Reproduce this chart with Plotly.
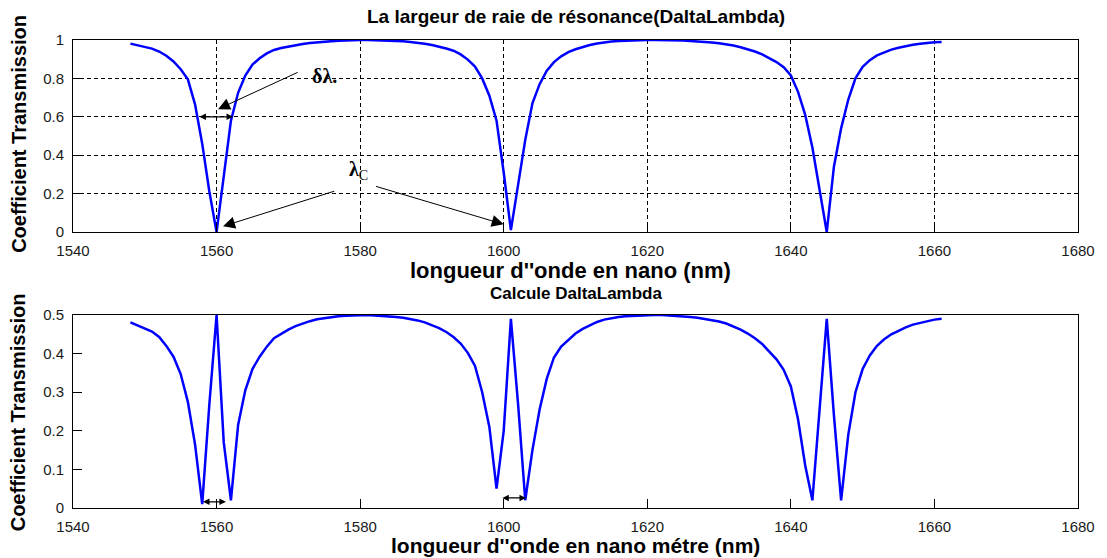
import plotly.graph_objects as go

# Wavelength samples (nm)
wavelength = list(range(1548, 1662))

# Top panel: transmission coefficient
transmission = [
    0.981, 0.973, 0.965, 0.955, 0.940, 0.918, 0.888, 0.848, 0.795, 0.665,
    0.460, 0.210, 0.000, 0.300, 0.580, 0.725, 0.815, 0.872, 0.905, 0.930,
    0.948, 0.958, 0.966, 0.973, 0.979, 0.984, 0.988, 0.991, 0.994, 0.996,
    0.998, 0.999, 1.000, 1.000, 0.999, 0.998, 0.997, 0.995, 0.993, 0.990,
    0.986, 0.981, 0.974, 0.966, 0.956, 0.944, 0.925, 0.898, 0.862, 0.800,
    0.710, 0.580, 0.310, 0.010, 0.240, 0.480, 0.670, 0.770, 0.840, 0.885,
    0.915, 0.937, 0.952, 0.964, 0.974, 0.982, 0.988, 0.992, 0.995, 0.997,
    0.998, 0.999, 1.000, 1.000, 1.000, 0.999, 0.998, 0.997, 0.995, 0.993,
    0.990, 0.987, 0.983, 0.978, 0.971, 0.962, 0.952, 0.940, 0.925, 0.906,
    0.885, 0.858, 0.815, 0.730, 0.610, 0.440, 0.230, 0.000, 0.340, 0.540,
    0.690, 0.800, 0.860, 0.895, 0.920, 0.937, 0.950, 0.960, 0.968, 0.975,
    0.980, 0.985, 0.988, 0.990,
]

# Bottom panel: "Calcule DaltaLambda" curve
delta_curve = [
    0.481, 0.473, 0.465, 0.457, 0.443, 0.420, 0.392, 0.347, 0.275, 0.165,
    0.010, 0.270, 0.500, 0.170, 0.020, 0.215, 0.305, 0.360, 0.392, 0.418,
    0.440, 0.452, 0.462, 0.471, 0.478, 0.484, 0.489, 0.492, 0.495, 0.497,
    0.498, 0.499, 0.500, 0.500, 0.499, 0.498, 0.497, 0.495, 0.493, 0.490,
    0.486, 0.481, 0.474, 0.466, 0.456, 0.443, 0.426, 0.402, 0.368, 0.300,
    0.210, 0.050, 0.200, 0.490, 0.270, 0.020, 0.150, 0.255, 0.335, 0.390,
    0.418, 0.436, 0.452, 0.464, 0.474, 0.482, 0.488, 0.492, 0.495, 0.497,
    0.498, 0.499, 0.500, 0.500, 0.500, 0.499, 0.498, 0.497, 0.495, 0.493,
    0.490, 0.487, 0.483, 0.478, 0.471, 0.462, 0.452, 0.440, 0.425, 0.406,
    0.385, 0.358, 0.315, 0.230, 0.110, 0.020, 0.250, 0.490, 0.240, 0.020,
    0.190, 0.300, 0.360, 0.395, 0.420, 0.437, 0.450, 0.460, 0.468, 0.475,
    0.480, 0.485, 0.488, 0.490,
]

x_ticks = [1540, 1560, 1580, 1600, 1620, 1640, 1660, 1680]
y_ticks_top = [0, 0.2, 0.4, 0.6, 0.8, 1]
y_ticks_bottom = [0, 0.1, 0.2, 0.3, 0.4, 0.5]

fig = go.Figure()
fig.add_trace(go.Scatter(x=wavelength, y=transmission, mode="lines",
                         line=dict(color="#0000FF", width=2.5),
                         xaxis="x", yaxis="y", showlegend=False))
fig.add_trace(go.Scatter(x=wavelength, y=delta_curve, mode="lines",
                         line=dict(color="#0000FF", width=2.5),
                         xaxis="x2", yaxis="y2", showlegend=False))

tick_font = dict(family="Arial, Liberation Sans, sans-serif", size=15, color="#1a1a1a")
axis_common = dict(showline=True, mirror=True, linecolor="black", linewidth=1,
                   ticks="inside", ticklen=9, tickcolor="black", tickwidth=1,
                   tickfont=tick_font, zeroline=False, ticklabelstandoff=5)
grid_style = dict(showgrid=True, gridcolor="black", griddash="4px,3px", gridwidth=1)

fig.update_layout(
    width=1107, height=558,
    paper_bgcolor="white", plot_bgcolor="white",
    margin=dict(l=73, r=25, t=40, b=50),
    xaxis=dict(domain=[0, 1], range=[1540, 1680], tickvals=x_ticks, anchor="y",
               **grid_style, **axis_common),
    yaxis=dict(domain=[0.5897, 1], range=[0, 1], tickvals=y_ticks_top,
               ticktext=["0", "0.2", "0.4", "0.6", "0.8", "1"], anchor="x",
               **grid_style, **axis_common),
    xaxis2=dict(domain=[0, 1], range=[1540, 1680], tickvals=x_ticks, anchor="y2",
                showgrid=False, **axis_common),
    yaxis2=dict(domain=[0, 0.4124], range=[0, 0.5], tickvals=y_ticks_bottom,
                ticktext=["0", "0.1", "0.2", "0.3", "0.4", "0.5"], anchor="x2",
                showgrid=False, **axis_common),
)

bold = dict(family="Arial, Liberation Sans, sans-serif", color="black")
mid = dict(xanchor="center", yanchor="middle", showarrow=False, xref="paper", yref="paper")
ann = []
# titles and axis labels
ann.append(dict(text="<b>La largeur de raie de résonance(DaltaLambda)</b>", x=0.5, y=1.051,
                font=dict(size=19, **bold), **mid))
ann.append(dict(text="<b>longueur d''onde en nano (nm)</b>", x=0.495, y=0.5085,
                font=dict(size=22, **bold), **mid))
ann.append(dict(text="<b>Calcule DaltaLambda</b>", x=0.5, y=0.4594,
                font=dict(size=17, **bold), **mid))
ann.append(dict(text="<b>longueur d''onde en nano métre (nm)</b>", x=0.5, y=-0.081,
                font=dict(size=21, **bold), **mid))
ann.append(dict(text="<b>Coefficient Transmission</b>", x=-0.0545, y=0.80, textangle=-90,
                font=dict(size=20, **bold), **mid))
ann.append(dict(text="<b>Coefficient Transmission</b>", x=-0.0545, y=0.205, textangle=-90,
                font=dict(size=20, **bold), **mid))

serif = dict(family="Liberation Serif, Times New Roman, serif", color="black")
# delta lambda label and arrow
ann.append(dict(text="<b>δλ.</b>", x=1575.0, y=0.81, xref="x", yref="y",
                xanchor="center", yanchor="middle",
                showarrow=False, font=dict(size=20, **serif)))
ann.append(dict(text="", x=1560.2, y=0.64, ax=1571.5, ay=0.835, xref="x", yref="y",
                axref="x", ayref="y", showarrow=True, arrowhead=2, arrowsize=2.4,
                arrowwidth=1, arrowcolor="black", standoff=0))
# lambda C label and arrows
ann.append(dict(text="<b>λ</b><sub>C</sub>", x=1579.8, y=0.32,
                xref="x", yref="y", xanchor="center", yanchor="middle",
                showarrow=False, font=dict(size=20, **serif)))
ann.append(dict(text="", x=1560.9, y=0.03, ax=1576.6, ay=0.215, xref="x", yref="y",
                axref="x", ayref="y", showarrow=True, arrowhead=2, arrowsize=2.4,
                arrowwidth=1, arrowcolor="black", standoff=0))
ann.append(dict(text="", x=1600.0, y=0.04, ax=1582.0, ay=0.24, xref="x", yref="y",
                axref="x", ayref="y", showarrow=True, arrowhead=2, arrowsize=2.4,
                arrowwidth=1, arrowcolor="black", standoff=0))
# double arrow at 0.6 in top panel
ann.append(dict(text="", x=1562.3, y=0.6, ax=1557.4, ay=0.6, xref="x", yref="y",
                axref="x", ayref="y", showarrow=True, arrowhead=2, arrowsize=1,
                arrowwidth=1.3, arrowcolor="black", arrowside="end+start", standoff=0,
                startstandoff=0, startarrowhead=2, startarrowsize=1))
# double arrows in bottom panel
ann.append(dict(text="", x=1561.3, y=0.016, ax=1557.9, ay=0.016, xref="x2", yref="y2",
                axref="x2", ayref="y2", showarrow=True, arrowhead=2, arrowsize=1,
                arrowwidth=1.3, arrowcolor="black", arrowside="end+start", standoff=0,
                startstandoff=0, startarrowhead=2, startarrowsize=1))
ann.append(dict(text="", x=1603.1, y=0.026, ax=1599.6, ay=0.026, xref="x2", yref="y2",
                axref="x2", ayref="y2", showarrow=True, arrowhead=2, arrowsize=1,
                arrowwidth=1.3, arrowcolor="black", arrowside="end+start", standoff=0,
                startstandoff=0, startarrowhead=2, startarrowsize=1))

fig.update_layout(annotations=ann)
fig.write_html("out.html", config={"displayModeBar": False},
               post_script="document.body.style.margin='0';")
